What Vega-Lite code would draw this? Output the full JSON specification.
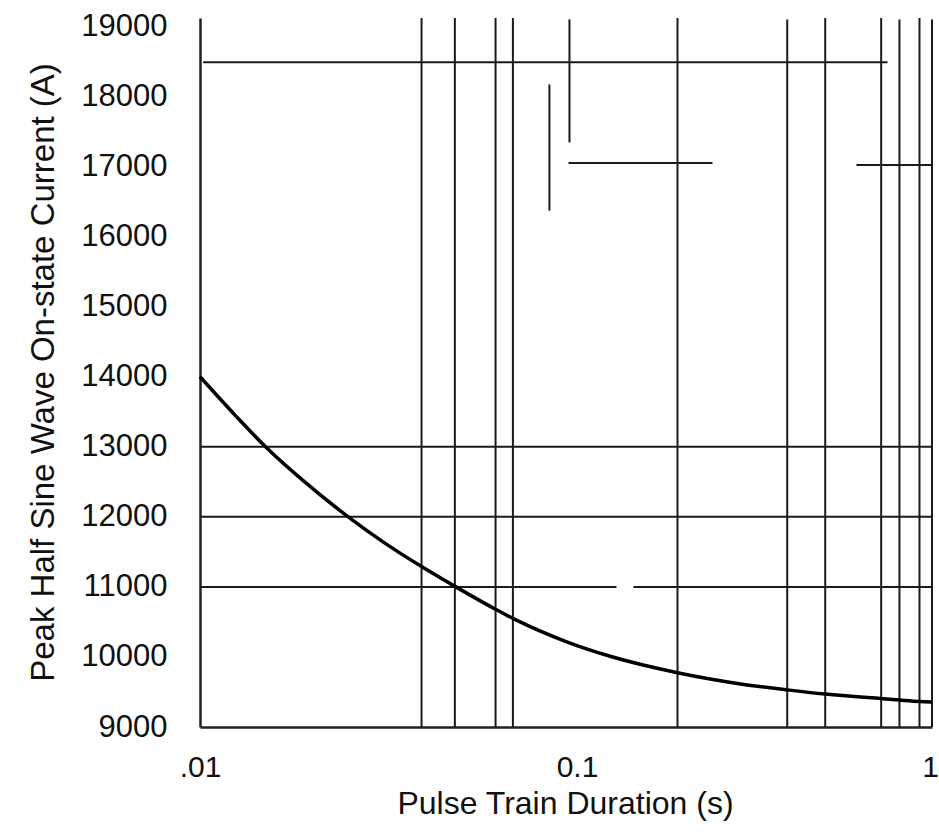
{
  "$schema": "https://vega.github.io/schema/vega-lite/v6.json",
  "autosize": {"type": "none"},
  "padding": {"left": 200, "top": 18, "right": 7, "bottom": 108},
  "width": 732,
  "height": 709,
  "background": "white",
  "config": {
    "view": {"stroke": null},
    "font": "Liberation Sans",
    "axis": {"labelFont": "Liberation Sans", "titleFont": "Liberation Sans", "labelColor": "#111", "titleColor": "#111"}
  },
  "datasets": {
    "vlines": [
      {"x": 0.0403, "y": 9000, "y2": 19120},
      {"x": 0.0497, "y": 9000, "y2": 19120},
      {"x": 0.0642, "y": 9000, "y2": 19120},
      {"x": 0.0716, "y": 9000, "y2": 19120},
      {"x": 0.0901, "y": 16371, "y2": 18171},
      {"x": 0.1022, "y": 17343, "y2": 19100},
      {"x": 0.2017, "y": 9000, "y2": 19120},
      {"x": 0.4022, "y": 9000, "y2": 19100},
      {"x": 0.5108, "y": 9000, "y2": 19120},
      {"x": 0.7263, "y": 9000, "y2": 19120},
      {"x": 0.8149, "y": 9000, "y2": 19100},
      {"x": 0.9243, "y": 9000, "y2": 19120},
      {"x": 1.0, "y": 9000, "y2": 19100}
    ],
    "hlines": [
      {"y": 13000, "x": 0.01, "x2": 1.0},
      {"y": 12000, "x": 0.01, "x2": 1.0},
      {"y": 11000, "x": 0.01, "x2": 0.1374},
      {"y": 11000, "x": 0.1529, "x2": 1.0},
      {"y": 18487, "x": 0.0102, "x2": 0.756},
      {"y": 17050, "x": 0.1016, "x2": 0.2513},
      {"y": 17020, "x": 0.6218, "x2": 1.0}
    ],
    "curve": [
      {"x": 0.01, "y": 14000},
      {"x": 0.0125, "y": 13445},
      {"x": 0.0151, "y": 13000},
      {"x": 0.019, "y": 12530},
      {"x": 0.0254, "y": 12000},
      {"x": 0.032, "y": 11625},
      {"x": 0.0403, "y": 11290},
      {"x": 0.05, "y": 11000},
      {"x": 0.0642, "y": 10680},
      {"x": 0.0716, "y": 10550},
      {"x": 0.1, "y": 10220},
      {"x": 0.132, "y": 10010},
      {"x": 0.2017, "y": 9775},
      {"x": 0.3, "y": 9615},
      {"x": 0.4022, "y": 9530},
      {"x": 0.5108, "y": 9470},
      {"x": 0.7263, "y": 9405},
      {"x": 0.8149, "y": 9385},
      {"x": 0.9243, "y": 9365},
      {"x": 1.0, "y": 9358}
    ]
  },
  "layer": [
    {
      "data": {"name": "vlines"},
      "mark": {"type": "rule", "color": "#1a1a1a", "strokeWidth": 2},
      "encoding": {
        "x": {
          "field": "x", "type": "quantitative",
          "scale": {"type": "log", "domain": [0.01, 1]},
          "title": "Pulse Train Duration (s)",
          "axis": {
            "values": [0.01, 0.1, 1],
            "labelExpr": "datum.value < 0.05 ? '.01' : (datum.value < 0.5 ? '0.1' : '1')",
            "grid": false, "ticks": false,
            "domainColor": "#222", "domainWidth": 2.5,
            "labelFontSize": 30, "labelPadding": 25,
            "labelOffset": {"condition": [{"test": "abs(datum.value - 0.1) < 0.001", "value": 11}, {"test": "datum.value > 0.5", "value": -2}], "value": 0},
            "labelFlush": false,
            "titleFontSize": 32, "titleFontWeight": "normal",
            "titleX": 365, "titleY": 76, "titleBaseline": "middle", "titleAlign": "center"
          }
        },
        "y": {
          "field": "y", "type": "quantitative",
          "scale": {"domain": [9000, 19120], "nice": false, "zero": false},
          "title": "Peak Half Sine Wave On-state Current (A)",
          "axis": {
            "values": [9000, 10000, 11000, 12000, 13000, 14000, 15000, 16000, 17000, 18000, 19000],
            "format": "d",
            "grid": false, "ticks": false,
            "domainColor": "#222", "domainWidth": 2.5,
            "labelFontSize": 31, "labelPadding": 33,
            "titleFontSize": 33, "titleFontWeight": "normal",
            "titleX": -157, "titleY": 354, "titleBaseline": "middle", "titleAlign": "center"
          }
        },
        "y2": {"field": "y2"}
      }
    },
    {
      "data": {"name": "hlines"},
      "mark": {"type": "rule", "color": "#1a1a1a", "strokeWidth": 2},
      "encoding": {
        "x": {"field": "x", "type": "quantitative", "title": "Pulse Train Duration (s)"},
        "x2": {"field": "x2"},
        "y": {"field": "y", "type": "quantitative", "title": "Peak Half Sine Wave On-state Current (A)"}
      }
    },
    {
      "data": {"name": "curve"},
      "mark": {"type": "line", "color": "#000", "strokeWidth": 3.5, "interpolate": "monotone"},
      "encoding": {
        "x": {"field": "x", "type": "quantitative", "title": "Pulse Train Duration (s)"},
        "y": {"field": "y", "type": "quantitative", "title": "Peak Half Sine Wave On-state Current (A)"}
      }
    }
  ]
}
